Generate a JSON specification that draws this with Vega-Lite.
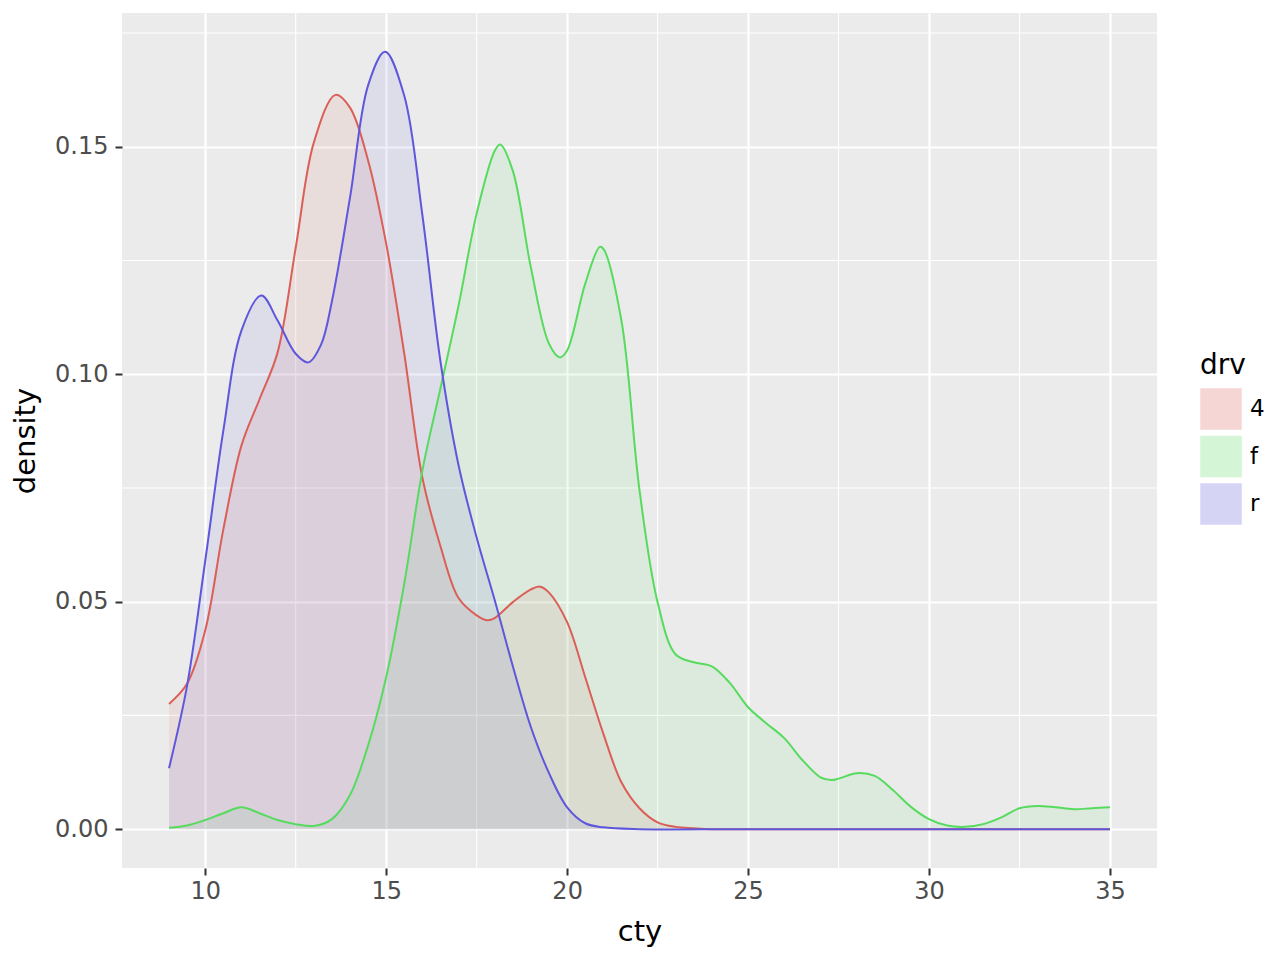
{
  "$schema": "https://vega.github.io/schema/vega-lite/v6.json",
  "width": 1035,
  "height": 855,
  "autosize": {"type": "none"},
  "padding": {"left": 122, "top": 13, "right": 123, "bottom": 92},
  "background": "white",
  "view": {"fill": "#EBEBEB", "stroke": null},
  "config": {"font": "DejaVu Sans"},
  "datasets": {
    "dens": [
      {"drv": "4", "cty": 9, "density": 0.0275},
      {"drv": "4", "cty": 9.5, "density": 0.032},
      {"drv": "4", "cty": 10, "density": 0.0437},
      {"drv": "4", "cty": 10.5, "density": 0.0659},
      {"drv": "4", "cty": 11, "density": 0.0843},
      {"drv": "4", "cty": 11.5, "density": 0.0945},
      {"drv": "4", "cty": 12, "density": 0.1048},
      {"drv": "4", "cty": 12.5, "density": 0.1278},
      {"drv": "4", "cty": 13, "density": 0.1509},
      {"drv": "4", "cty": 13.6, "density": 0.1614},
      {"drv": "4", "cty": 14, "density": 0.1586},
      {"drv": "4", "cty": 14.5, "density": 0.147},
      {"drv": "4", "cty": 15, "density": 0.1287},
      {"drv": "4", "cty": 15.5, "density": 0.1045},
      {"drv": "4", "cty": 16, "density": 0.0773},
      {"drv": "4", "cty": 16.5, "density": 0.0622},
      {"drv": "4", "cty": 17, "density": 0.0508},
      {"drv": "4", "cty": 17.5, "density": 0.047},
      {"drv": "4", "cty": 17.8, "density": 0.0459},
      {"drv": "4", "cty": 18, "density": 0.0464},
      {"drv": "4", "cty": 18.5, "density": 0.0499},
      {"drv": "4", "cty": 19, "density": 0.0527},
      {"drv": "4", "cty": 19.25, "density": 0.0533},
      {"drv": "4", "cty": 19.5, "density": 0.052},
      {"drv": "4", "cty": 20, "density": 0.0455},
      {"drv": "4", "cty": 20.5, "density": 0.0334},
      {"drv": "4", "cty": 21, "density": 0.021},
      {"drv": "4", "cty": 21.5, "density": 0.0103},
      {"drv": "4", "cty": 22, "density": 0.0046},
      {"drv": "4", "cty": 22.5, "density": 0.0015},
      {"drv": "4", "cty": 23, "density": 0.0005},
      {"drv": "4", "cty": 23.5, "density": 0.0002},
      {"drv": "4", "cty": 24, "density": 0.0},
      {"drv": "4", "cty": 27, "density": 0.0},
      {"drv": "4", "cty": 31, "density": 0.0},
      {"drv": "4", "cty": 35, "density": 0.0},
      {"drv": "f", "cty": 9, "density": 0.0003},
      {"drv": "f", "cty": 9.5, "density": 0.0008},
      {"drv": "f", "cty": 10, "density": 0.002},
      {"drv": "f", "cty": 10.5, "density": 0.0035},
      {"drv": "f", "cty": 11, "density": 0.0048},
      {"drv": "f", "cty": 11.5, "density": 0.0035},
      {"drv": "f", "cty": 12, "density": 0.002},
      {"drv": "f", "cty": 12.5, "density": 0.0011},
      {"drv": "f", "cty": 13, "density": 0.0007},
      {"drv": "f", "cty": 13.5, "density": 0.0022},
      {"drv": "f", "cty": 14, "density": 0.0075},
      {"drv": "f", "cty": 14.5, "density": 0.0184},
      {"drv": "f", "cty": 15, "density": 0.0334},
      {"drv": "f", "cty": 15.5, "density": 0.054},
      {"drv": "f", "cty": 16, "density": 0.0788},
      {"drv": "f", "cty": 16.5, "density": 0.0969},
      {"drv": "f", "cty": 17, "density": 0.1151},
      {"drv": "f", "cty": 17.5, "density": 0.1353},
      {"drv": "f", "cty": 18, "density": 0.1491},
      {"drv": "f", "cty": 18.15, "density": 0.1505},
      {"drv": "f", "cty": 18.5, "density": 0.1447},
      {"drv": "f", "cty": 19, "density": 0.1234},
      {"drv": "f", "cty": 19.5, "density": 0.1067},
      {"drv": "f", "cty": 19.8, "density": 0.1037},
      {"drv": "f", "cty": 20, "density": 0.1052},
      {"drv": "f", "cty": 20.5, "density": 0.1199},
      {"drv": "f", "cty": 20.9, "density": 0.128},
      {"drv": "f", "cty": 21, "density": 0.1276},
      {"drv": "f", "cty": 21.5, "density": 0.1118},
      {"drv": "f", "cty": 22, "density": 0.0745},
      {"drv": "f", "cty": 22.5, "density": 0.0499},
      {"drv": "f", "cty": 23, "density": 0.0384},
      {"drv": "f", "cty": 23.5, "density": 0.0367},
      {"drv": "f", "cty": 24, "density": 0.0358},
      {"drv": "f", "cty": 24.5, "density": 0.0321},
      {"drv": "f", "cty": 25, "density": 0.0268},
      {"drv": "f", "cty": 25.5, "density": 0.0233},
      {"drv": "f", "cty": 26, "density": 0.02},
      {"drv": "f", "cty": 26.5, "density": 0.0152},
      {"drv": "f", "cty": 27, "density": 0.0114},
      {"drv": "f", "cty": 27.3, "density": 0.0108},
      {"drv": "f", "cty": 27.5, "density": 0.0111},
      {"drv": "f", "cty": 28, "density": 0.0123},
      {"drv": "f", "cty": 28.5, "density": 0.0117},
      {"drv": "f", "cty": 29, "density": 0.0086},
      {"drv": "f", "cty": 29.5, "density": 0.0049},
      {"drv": "f", "cty": 30, "density": 0.0022},
      {"drv": "f", "cty": 30.5, "density": 0.0008},
      {"drv": "f", "cty": 31, "density": 0.0005},
      {"drv": "f", "cty": 31.5, "density": 0.0011},
      {"drv": "f", "cty": 32, "density": 0.0026},
      {"drv": "f", "cty": 32.5, "density": 0.0046},
      {"drv": "f", "cty": 33, "density": 0.0051},
      {"drv": "f", "cty": 33.5, "density": 0.0048},
      {"drv": "f", "cty": 34, "density": 0.0044},
      {"drv": "f", "cty": 34.5, "density": 0.0046},
      {"drv": "f", "cty": 35, "density": 0.0048},
      {"drv": "r", "cty": 9, "density": 0.0134},
      {"drv": "r", "cty": 9.5, "density": 0.0316},
      {"drv": "r", "cty": 10, "density": 0.059},
      {"drv": "r", "cty": 10.5, "density": 0.0876},
      {"drv": "r", "cty": 11, "density": 0.1096},
      {"drv": "r", "cty": 11.55, "density": 0.1173},
      {"drv": "r", "cty": 12, "density": 0.1118},
      {"drv": "r", "cty": 12.5, "density": 0.1045},
      {"drv": "r", "cty": 12.85, "density": 0.1026},
      {"drv": "r", "cty": 13.2, "density": 0.1065},
      {"drv": "r", "cty": 13.5, "density": 0.116},
      {"drv": "r", "cty": 14, "density": 0.1388},
      {"drv": "r", "cty": 14.5, "density": 0.1635},
      {"drv": "r", "cty": 14.97, "density": 0.1709},
      {"drv": "r", "cty": 15.5, "density": 0.1612},
      {"drv": "r", "cty": 16, "density": 0.135},
      {"drv": "r", "cty": 16.5, "density": 0.1028},
      {"drv": "r", "cty": 17, "density": 0.08},
      {"drv": "r", "cty": 17.5, "density": 0.0641},
      {"drv": "r", "cty": 18, "density": 0.0503},
      {"drv": "r", "cty": 18.5, "density": 0.0358},
      {"drv": "r", "cty": 19, "density": 0.0224},
      {"drv": "r", "cty": 19.5, "density": 0.0123},
      {"drv": "r", "cty": 20, "density": 0.0048},
      {"drv": "r", "cty": 20.5, "density": 0.0013},
      {"drv": "r", "cty": 21, "density": 0.0004},
      {"drv": "r", "cty": 22, "density": 0.0},
      {"drv": "r", "cty": 25, "density": 0.0},
      {"drv": "r", "cty": 30, "density": 0.0},
      {"drv": "r", "cty": 35, "density": 0.0}
    ]
  },
  "layer": [
    {
      "data": {"values": [{"gx": 12.5}, {"gx": 17.5}, {"gx": 22.5}, {"gx": 27.5}, {"gx": 32.5}]},
      "mark": {"type": "rule", "color": "white", "strokeWidth": 1.1},
      "encoding": {"x": {"field": "gx", "type": "quantitative"}}
    },
    {
      "data": {"values": [{"gy": 0.025}, {"gy": 0.075}, {"gy": 0.125}, {"gy": 0.175}]},
      "mark": {"type": "rule", "color": "white", "strokeWidth": 1.1},
      "encoding": {"y": {"field": "gy", "type": "quantitative"}}
    },
    {
      "data": {"name": "dens"},
      "mark": {"type": "area", "fillOpacity": 0.1, "interpolate": "catmull-rom"},
      "encoding": {
        "x": {"field": "cty", "type": "quantitative"},
        "y": {"field": "density", "type": "quantitative", "stack": null},
        "y2": {"datum": 0},
        "color": {
          "field": "drv", "type": "nominal",
          "scale": {"domain": ["4", "f", "r"], "range": ["#db5f57", "#57db5f", "#5f57db"]},
          "legend": {
            "orient": "none", "legendX": 1078, "legendY": 339,
            "title": "drv", "titleFontSize": 28, "titleFontWeight": "normal", "titleColor": "#000000",
            "titlePadding": 8, "symbolType": "square", "symbolSize": 1600,
            "symbolOpacity": 0.25, "rowPadding": 1.5,
            "labelFontSize": 23, "labelColor": "#000000", "labelOffset": 8
          }
        }
      }
    },
    {
      "data": {"name": "dens"},
      "mark": {"type": "line", "strokeWidth": 2, "interpolate": "catmull-rom"},
      "encoding": {
        "x": {"field": "cty", "type": "quantitative"},
        "y": {"field": "density", "type": "quantitative"},
        "color": {"field": "drv", "type": "nominal"}
      }
    }
  ],
  "encoding": {
    "x": {
      "type": "quantitative",
      "scale": {"domain": [7.7, 36.3], "nice": false, "zero": false},
      "axis": {
        "title": "cty", "values": [10, 15, 20, 25, 30, 35], "format": "d",
        "grid": true, "gridColor": "white", "gridWidth": 2.2, "domain": false,
        "tickColor": "#333333", "tickSize": 7, "tickWidth": 2,
        "labelFontSize": 24, "labelColor": "#4D4D4D", "labelPadding": 4,
        "titleFontSize": 29, "titleFontWeight": "normal", "titleColor": "#000000", "titlePadding": 14
      }
    },
    "y": {
      "type": "quantitative",
      "scale": {"domain": [-0.00854, 0.1794], "nice": false, "zero": false},
      "axis": {
        "title": "density", "values": [0, 0.05, 0.1, 0.15], "format": ".2f",
        "grid": true, "gridColor": "white", "gridWidth": 2.2, "domain": false,
        "tickColor": "#333333", "tickSize": 7, "tickWidth": 2,
        "labelFontSize": 24, "labelColor": "#4D4D4D", "labelPadding": 7,
        "titleFontSize": 29, "titleFontWeight": "normal", "titleColor": "#000000", "titlePadding": 14
      }
    }
  }
}
